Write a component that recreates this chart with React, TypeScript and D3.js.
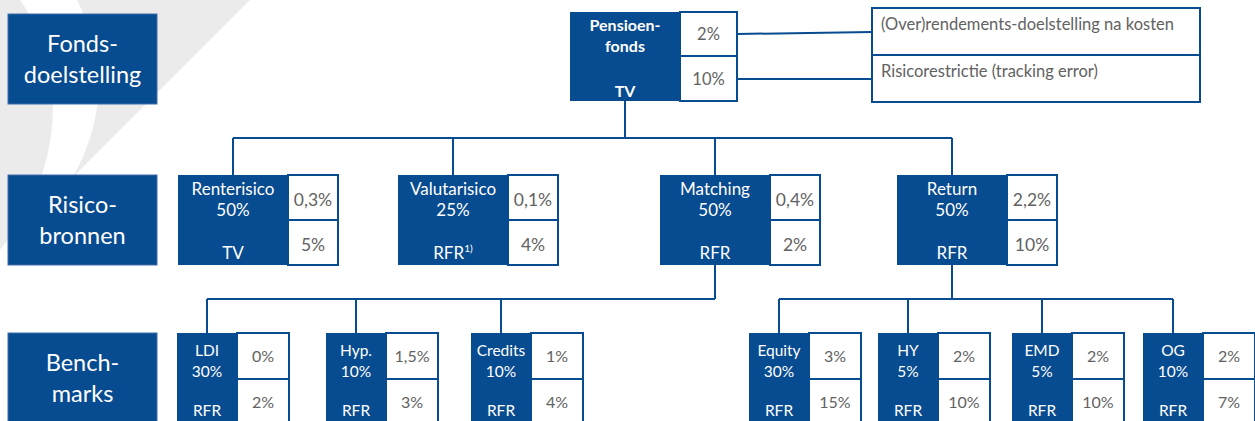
import * as d3 from "d3";
import { useEffect, useRef } from "react";

const W = 1255;
const H = 421;
const BLUE = "#074b90";
const TXT_GREY = "#626262";
const BG_GREY = "#ebebeb";
const FONT = "Lato, 'Open Sans', sans-serif";

// row captions on the left
const rowLabels = [
  ["Fonds-", "doelstelling"],
  ["Risico-", "bronnen"],
  ["Bench-", "marks"],
];

// fund level
const fundName = ["Pensioen-", "fonds"];
const fundBench = "TV";
const fundReturn = "2%";
const fundRisk = "10%";
const fundNotes = ["(Over)rendements-doelstelling  na kosten", "Risicorestrictie (tracking error)"];

// risk sources
const sourceNames = ["Renterisico", "Valutarisico", "Matching", "Return"];
const sourceWeights = ["50%", "25%", "50%", "50%"];
const sourceBench = ["TV", "RFR", "RFR", "RFR"];
const sourceReturn = ["0,3%", "0,1%", "0,4%", "2,2%"];
const sourceRisk = ["5%", "4%", "2%", "10%"];

// benchmarks
const benchNames = ["LDI", "Hyp.", "Credits", "Equity", "HY", "EMD", "OG"];
const benchWeights = ["30%", "10%", "10%", "30%", "5%", "5%", "10%"];
const benchParent = [2, 2, 2, 3, 3, 3, 3];
const benchReturn = ["0%", "1,5%", "1%", "3%", "2%", "2%", "2%"];
const benchRisk = ["2%", "3%", "4%", "15%", "10%", "10%", "7%"];

// layout (left edges of the boxes)
const rowTops = [14, 175, 333];
const sourceX = [178, 398, 660, 897];
const benchX = [177, 326, 471, 749, 878, 1012, 1143];

type Box = {
  x: number; y: number; dw: number; ww: number; h: number; split: number;
};

const App = () => {
  const ref = useRef<SVGSVGElement>(null);

  useEffect(() => {
    const svg = d3.select(ref.current);
    svg.selectAll("*").remove();

    // background watermark
    const bg = svg.append("g").attr("fill", BG_GREY);
    bg.append("path").attr("d", "M0,0 L20,0 C62,60 72,160 0,250 Z");
    bg.append("path").attr("d", "M77,0 L250,0 L73,177 Q122,88 77,0 Z");

    // row captions
    rowLabels.forEach((lines, i) => {
      const g = svg.append("g").attr("transform", `translate(8,${rowTops[i]})`);
      g.append("rect").attr("width", 149).attr("height", 90)
        .attr("fill", BLUE).attr("stroke", "#3f6fa8").attr("stroke-width", 1);
      g.selectAll("text").data(lines).join("text")
        .attr("x", 74.5).attr("y", (_, j) => 38 + j * 31)
        .attr("text-anchor", "middle").attr("fill", "white")
        .attr("font-family", FONT).attr("font-size", 23.5)
        .text(d => d);
    });

    const lines = svg.append("g").attr("stroke", BLUE).attr("stroke-width", 2).attr("fill", "none");

    const drawBox = (b: Box, dark: { text: string; y: number; bold?: boolean; sup?: string }[],
      vals: string[], fs: number, valY: number[]) => {
      const g = svg.append("g");
      g.append("rect").attr("x", b.x).attr("y", b.y).attr("width", b.dw).attr("height", b.h).attr("fill", BLUE);
      g.append("rect").attr("x", b.x + b.dw).attr("y", b.y).attr("width", b.ww).attr("height", b.split)
        .attr("fill", "white").attr("stroke", BLUE).attr("stroke-width", 2);
      g.append("rect").attr("x", b.x + b.dw).attr("y", b.y + b.split).attr("width", b.ww).attr("height", b.h - b.split)
        .attr("fill", "white").attr("stroke", BLUE).attr("stroke-width", 2);
      dark.forEach(d => {
        const t = g.append("text").attr("x", b.x + b.dw / 2).attr("y", b.y + d.y)
          .attr("text-anchor", "middle").attr("fill", "white")
          .attr("font-family", FONT).attr("font-size", fs)
          .attr("font-weight", d.bold ? 700 : 400).text(d.text);
        if (d.sup) t.append("tspan").attr("font-size", fs * 0.6).attr("dy", -7).text(d.sup);
      });
      vals.forEach((v, i) => {
        g.append("text").attr("x", b.x + b.dw + b.ww / 2).attr("y", b.y + valY[i])
          .attr("text-anchor", "middle").attr("fill", TXT_GREY)
          .attr("font-family", FONT).attr("font-size", fs + 0.5).text(v);
      });
    };

    // fund
    const fund: Box = { x: 570, y: 12, dw: 110, ww: 57, h: 89, split: 44 };
    const fundCx = fund.x + fund.dw / 2;
    drawBox(fund, [
      { text: fundName[0], y: 19, bold: true },
      { text: fundName[1], y: 40, bold: true },
      { text: fundBench, y: 85, bold: true },
    ], [fundReturn, fundRisk], 16, [28, 73]);

    // notes
    const noteX = 872, noteW = 328;
    const noteY = [8, 55];
    fundNotes.forEach((n, i) => {
      svg.append("rect").attr("x", noteX).attr("y", noteY[i]).attr("width", noteW).attr("height", 47)
        .attr("fill", "white").attr("stroke", BLUE).attr("stroke-width", 2);
      svg.append("text").attr("x", noteX + 9).attr("y", noteY[i] + 22)
        .attr("fill", TXT_GREY).attr("font-family", FONT).attr("font-size", 16.5).text(n);
    });
    lines.append("path").attr("d", `M${fund.x + fund.dw + fund.ww},34 L${noteX},32`);
    lines.append("path").attr("d", `M${fund.x + fund.dw + fund.ww},79 L${noteX},79`);

    // risk sources
    const srcDw = 110, srcWw = 50;
    const srcCx = sourceX.map(x => x + srcDw / 2);
    const busY1 = 138;
    lines.append("path").attr("d", `M${fundCx},${fund.y + fund.h} V${busY1}`);
    lines.append("path").attr("d", `M${d3.min(srcCx)},${busY1} H${d3.max(srcCx)}`);
    srcCx.forEach(cx => lines.append("path").attr("d", `M${cx},${busY1} V${rowTops[1]}`));

    // benchmark connectors
    const bDw = 60, bWw = 52;
    const bCx = benchX.map(x => x + bDw / 2);
    const busY2 = 299;
    d3.groups(benchNames.map((_, i) => i), i => benchParent[i]).forEach(([p, kids]) => {
      const pcx = srcCx[p];
      const xs = kids.map(i => bCx[i]).concat([pcx]);
      lines.append("path").attr("d", `M${pcx},${rowTops[1] + 90} V${busY2}`);
      lines.append("path").attr("d", `M${d3.min(xs)},${busY2} H${d3.max(xs)}`);
      kids.forEach(i => lines.append("path").attr("d", `M${bCx[i]},${busY2} V${rowTops[2]}`));
    });

    sourceNames.forEach((n, i) => {
      drawBox({ x: sourceX[i], y: rowTops[1], dw: srcDw, ww: srcWw, h: 90, split: 45 }, [
        { text: n, y: 20 },
        { text: sourceWeights[i], y: 41 },
        { text: sourceBench[i], y: 84, sup: i === 1 ? "1)" : undefined },
      ], [sourceReturn[i], sourceRisk[i]], 17, [31, 76]);
    });

    benchNames.forEach((n, i) => {
      drawBox({ x: benchX[i], y: rowTops[2], dw: bDw, ww: bWw, h: 95, split: 46 }, [
        { text: n, y: 23 },
        { text: benchWeights[i], y: 44 },
        { text: "RFR", y: 83 },
      ], [benchReturn[i], benchRisk[i]], 15.5, [29, 75]);
    });

    lines.raise();
  }, []);

  return (
    <svg ref={ref} width={W} height={H}
      style={{ position: "fixed", left: 0, top: 0, background: "white" }} />
  );
};

export default App;
